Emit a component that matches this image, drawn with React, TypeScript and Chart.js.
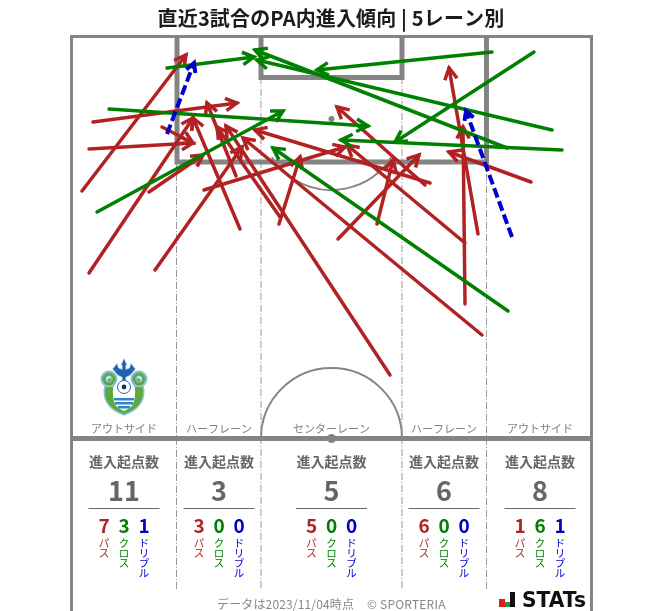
import React, { useEffect, useRef } from "react";
import { Chart, registerables } from "chart.js";

Chart.register(...registerables);

const titleText = "直近3試合のPA内進入傾向 | 5レーン別";
const laneNames = ["アウトサイド", "ハーフレーン", "センターレーン", "ハーフレーン", "アウトサイド"];
const laneCentres = [124, 219, 331.5, 444, 540];
const entryCounts = [11, 3, 5, 6, 8];
const passCounts = [7, 3, 5, 6, 1];
const crossCounts = [3, 0, 0, 0, 6];
const dribbleCounts = [1, 0, 0, 0, 1];
const statLabels = ["パス", "クロス", "ドリブル"];
const headerText = "進入起点数";
const footerDate = "データは2023/11/04時点";
const footerCopy = "© SPORTERIA";

// [fromX, fromY, toX, toY] on the pitch grid
const passArrows = [
  [82, 191, 186, 55],
  [93, 122, 237, 103],
  [89, 149, 193, 143],
  [89, 273, 193, 118],
  [155, 270, 242, 147],
  [149, 192, 203, 155],
  [162, 127, 193, 143],
  [240, 229, 193, 118],
  [204, 190, 345, 147],
  [236, 176, 207, 103],
  [279, 224, 300, 157],
  [338, 239, 419, 155],
  [377, 224, 393, 160],
  [390, 375, 226, 126],
  [280, 217, 217, 127],
  [425, 185, 337, 107],
  [430, 183, 255, 130],
  [465, 243, 347, 145],
  [465, 304, 463, 127],
  [478, 234, 449, 68],
  [482, 335, 243, 138],
  [531, 182, 449, 152],
];
const crossArrows = [
  [167, 68, 254, 57],
  [109, 109, 368, 126],
  [97, 212, 283, 111],
  [492, 52, 317, 70],
  [534, 52, 395, 142],
  [552, 130, 257, 60],
  [507, 148, 255, 50],
  [562, 150, 341, 140],
  [508, 311, 273, 148],
];
const dribbleArrows = [
  [167, 134, 194, 63],
  [512, 237, 466, 111],
];

const outerLine = [[71.5, 640], [71.5, 36.5], [591.5, 36.5], [591.5, 640]];
const penaltyBox = [[177, 36.5], [177, 162], [486.5, 162], [486.5, 36.5]];
const goalBox = [[261, 36.5], [261, 77.5], [402, 77.5], [402, 36.5]];
const halfwayLine = [[71.5, 438.5], [591.5, 438.5]];
const laneLines = [
  [[176.5, 162], [176.5, 590]],
  [[261, 77], [261, 590]],
  [[402, 77], [402, 590]],
  [[486.5, 162], [486.5, 590]],
];

const RED = "#B22222";
const GREEN = "#008000";
const BLUE = "#0000CD";
const PITCH = "#848484";
const JP = '"Noto Sans CJK JP"';

function arrowSet(a: number[], color: string, dash: number[], width: number, headLen: number) {
  return {
    data: [{ x: a[0], y: a[1] }, { x: a[2], y: a[3] }],
    borderColor: color,
    borderWidth: width,
    borderDash: dash,
    borderCapStyle: dash.length ? "butt" : "round",
    pointRadius: 0,
    showLine: true,
    clip: false,
    tension: 0,
    headLen,
  };
}
function lineSet(pts: number[][], color: string, width: number, dash: number[] = []) {
  return {
    data: pts.map((p) => ({ x: p[0], y: p[1] })),
    borderColor: color,
    borderWidth: width,
    borderDash: dash,
    borderCapStyle: "butt",
    borderJoinStyle: "miter",
    pointRadius: 0,
    showLine: true,
    clip: false,
    tension: 0,
  };
}

function drawText(ctx: any, t: string, x: number, y: number, font: string, color: string, align = "center", spacing = "0px") {
  ctx.font = font;
  ctx.fillStyle = color;
  ctx.textAlign = align;
  ctx.textBaseline = "middle";
  ctx.letterSpacing = spacing;
  ctx.fillText(t, x, y);
  ctx.letterSpacing = "0px";
}

function drawLogo(ctx: any, cx: number, top: number) {
  ctx.save();
  ctx.translate(cx, top);
  const shield = () => {
    ctx.beginPath();
    ctx.moveTo(-15, 20);
    ctx.bezierCurveTo(-21, 30, -21, 42, -10, 50);
    ctx.quadraticCurveTo(-4, 54, 0, 55);
    ctx.quadraticCurveTo(4, 54, 10, 50);
    ctx.bezierCurveTo(21, 42, 21, 30, 15, 20);
    ctx.closePath();
  };
  ctx.lineJoin = "round";
  shield();
  ctx.fillStyle = "#5DAA3C";
  ctx.strokeStyle = "#8FBFE3";
  ctx.lineWidth = 3;
  ctx.stroke();
  ctx.fill();
  // inner panel
  ctx.beginPath();
  ctx.moveTo(-9, 18);
  ctx.lineTo(9, 18);
  ctx.bezierCurveTo(12, 30, 12, 40, 8, 47);
  ctx.quadraticCurveTo(3, 51, 0, 52);
  ctx.quadraticCurveTo(-3, 51, -8, 47);
  ctx.bezierCurveTo(-12, 40, -12, 30, -9, 18);
  ctx.closePath();
  ctx.fillStyle = "#FFFFFF";
  ctx.fill();
  // hooks
  for (const s of [-1, 1]) {
    ctx.beginPath();
    ctx.arc(s * 15, 20, 5.5, 0, Math.PI * 2);
    ctx.strokeStyle = "#8FBFE3";
    ctx.lineWidth = 6;
    ctx.stroke();
    ctx.beginPath();
    ctx.arc(s * 15, 20, 5, 0, Math.PI * 2);
    ctx.strokeStyle = "#5DAA3C";
    ctx.lineWidth = 3;
    ctx.stroke();
  }
  // trident
  ctx.fillStyle = "#1F63AE";
  ctx.strokeStyle = "#BBD8EE";
  ctx.lineWidth = 1.5;
  ctx.beginPath();
  ctx.moveTo(0, 0);
  ctx.lineTo(2.5, 6);
  ctx.lineTo(1.5, 6);
  ctx.lineTo(1.5, 11);
  ctx.lineTo(6, 9);
  ctx.lineTo(7, 5);
  ctx.lineTo(11, 10);
  ctx.lineTo(6, 16);
  ctx.lineTo(1.5, 18);
  ctx.lineTo(1.5, 21);
  ctx.lineTo(-1.5, 21);
  ctx.lineTo(-1.5, 18);
  ctx.lineTo(-6, 16);
  ctx.lineTo(-11, 10);
  ctx.lineTo(-7, 5);
  ctx.lineTo(-6, 9);
  ctx.lineTo(-1.5, 11);
  ctx.lineTo(-1.5, 6);
  ctx.lineTo(-2.5, 6);
  ctx.closePath();
  ctx.stroke();
  ctx.fill();
  // ball
  ctx.beginPath();
  ctx.arc(0, 28, 6.5, 0, Math.PI * 2);
  ctx.fillStyle = "#FFFFFF";
  ctx.fill();
  ctx.strokeStyle = "#1F63AE";
  ctx.lineWidth = 1;
  ctx.stroke();
  ctx.beginPath();
  ctx.arc(0, 28, 2.4, 0, Math.PI * 2);
  ctx.fillStyle = "#17365D";
  ctx.fill();
  // waves
  ctx.fillStyle = "#2E86C8";
  ctx.fillRect(-10, 39, 20, 2.5);
  ctx.fillRect(-9, 43, 18, 2.5);
  ctx.fillRect(-6, 47, 12, 2.5);
  ctx.restore();
}

const pitchPlugin = {
  id: "pitchMarks",
  beforeDatasetsDraw(chart: any) {
    const ctx = chart.ctx;
    const sx = chart.scales.x;
    const sy = chart.scales.y;
    const u = sx.getPixelForValue(1) - sx.getPixelForValue(0);
    ctx.save();
    ctx.strokeStyle = PITCH;
    ctx.lineWidth = 2;
    ctx.beginPath();
    ctx.arc(sx.getPixelForValue(331.5), sy.getPixelForValue(119), 71 * u, 0.57, Math.PI - 0.57);
    ctx.stroke();
    ctx.beginPath();
    ctx.arc(sx.getPixelForValue(331.5), sy.getPixelForValue(438.5), 70.5 * u, Math.PI, 0);
    ctx.stroke();
    ctx.fillStyle = PITCH;
    ctx.beginPath();
    ctx.arc(sx.getPixelForValue(331.5), sy.getPixelForValue(119), 3 * u, 0, Math.PI * 2);
    ctx.fill();
    ctx.beginPath();
    ctx.arc(sx.getPixelForValue(331.5), sy.getPixelForValue(438.5), 4.5 * u, 0, Math.PI * 2);
    ctx.fill();
    ctx.restore();

    drawLogo(ctx, sx.getPixelForValue(124), sy.getPixelForValue(359));
  },
  afterDatasetDraw(chart: any, args: any) {
    const ds = chart.data.datasets[args.index];
    if (!ds.headLen) return;
    const pts = args.meta.data;
    const ctx = chart.ctx;
    const a = Math.atan2(pts[1].y - pts[0].y, pts[1].x - pts[0].x);
    const w = 0.5;
    ctx.save();
    ctx.strokeStyle = ds.borderColor;
    ctx.lineWidth = ds.borderWidth;
    ctx.lineJoin = "miter";
    ctx.lineCap = "butt";
    ctx.setLineDash([]);
    ctx.beginPath();
    ctx.moveTo(pts[1].x - ds.headLen * Math.cos(a - w), pts[1].y - ds.headLen * Math.sin(a - w));
    ctx.lineTo(pts[1].x, pts[1].y);
    ctx.lineTo(pts[1].x - ds.headLen * Math.cos(a + w), pts[1].y - ds.headLen * Math.sin(a + w));
    ctx.stroke();
    ctx.restore();
  },
  afterDatasetsDraw(chart: any) {
    const ctx = chart.ctx;
    const sx = chart.scales.x;
    const sy = chart.scales.y;
    ctx.save();
    drawText(ctx, titleText, sx.getPixelForValue(331), sy.getPixelForValue(18), `bold 20px ${JP}`, "#1c1c1c", "center", "0.15px");
    laneNames.forEach((name, i) => {
      const c = sx.getPixelForValue(laneCentres[i]);
      drawText(ctx, name, c, sy.getPixelForValue(428.5), `11px ${JP}`, "#808080");
      drawText(ctx, headerText, c, sy.getPixelForValue(462), `bold 14px ${JP}`, "#666666");
      drawText(ctx, String(entryCounts[i]), c, sy.getPixelForValue(491), `bold 27px ${JP}`, "#666666");
      ctx.strokeStyle = "#666666";
      ctx.lineWidth = 1;
      ctx.beginPath();
      ctx.moveTo(sx.getPixelForValue(laneCentres[i] - 35.5), sy.getPixelForValue(508.5));
      ctx.lineTo(sx.getPixelForValue(laneCentres[i] + 35.5), sy.getPixelForValue(508.5));
      ctx.stroke();
      const vals = [passCounts[i], crossCounts[i], dribbleCounts[i]];
      const cols = [RED, GREEN, BLUE];
      vals.forEach((v, k) => {
        const x = sx.getPixelForValue(laneCentres[i] + (k - 1) * 20);
        drawText(ctx, String(v), x, sy.getPixelForValue(526), `bold 19px ${JP}`, cols[k]);
        Array.from(statLabels[k]).forEach((ch, n) => {
          drawText(ctx, ch, x, sy.getPixelForValue(543.5 + n * 10), `10.5px ${JP}`, cols[k]);
        });
      });
    });
    drawText(ctx, footerDate, sx.getPixelForValue(217), sy.getPixelForValue(604), `12px ${JP}`, "#888888", "left", "0.15px");
    drawText(ctx, footerCopy, sx.getPixelForValue(367), sy.getPixelForValue(604), `12px ${JP}`, "#888888", "left", "0.2px");

    // STATs mark
    ctx.fillStyle = "#E11C24";
    ctx.fillRect(sx.getPixelForValue(499), sy.getPixelForValue(599), 6, 8);
    ctx.fillStyle = "#1E9A3C";
    ctx.fillRect(sx.getPixelForValue(505), sy.getPixelForValue(602), 5, 5);
    ctx.fillStyle = "#111111";
    ctx.fillRect(sx.getPixelForValue(510), sy.getPixelForValue(592), 5, 15);
    ctx.font = `bold 21px "DejaVu Sans"`;
    ctx.textAlign = "left";
    ctx.textBaseline = "alphabetic";
    ctx.fillText("STATs", sx.getPixelForValue(522), sy.getPixelForValue(607), 64);
    ctx.restore();
  },
};

export default function App() {
  const ref = useRef<HTMLCanvasElement | null>(null);
  useEffect(() => {
    document.body.style.margin = "0";
    const datasets: any[] = [
      ...dribbleArrows.map((a) => arrowSet(a, BLUE, [10, 4], 4, 10)),
      ...crossArrows.map((a) => arrowSet(a, GREEN, [], 3.5, 13)),
      ...passArrows.map((a) => arrowSet(a, RED, [], 3.5, 13)),
      lineSet(outerLine, PITCH, 3),
      lineSet(penaltyBox, PITCH, 5),
      lineSet(goalBox, PITCH, 5),
      lineSet(halfwayLine, PITCH, 5),
      ...laneLines.map((l) => lineSet(l, "#999999", 1, [7, 2, 1, 2])),
    ];
    const chart = new Chart(ref.current as HTMLCanvasElement, {
      type: "scatter",
      data: { datasets },
      options: {
        animation: false,
        responsive: false,
        devicePixelRatio: 1,
        layout: { padding: 0 },
        plugins: { legend: { display: false }, tooltip: { enabled: false }, title: { display: false } },
        scales: {
          x: { type: "linear", min: 0, max: 663, display: false },
          y: { type: "linear", min: 0, max: 611, reverse: true, display: false },
        },
      },
      plugins: [pitchPlugin],
    } as any);
    return () => chart.destroy();
  }, []);
  return <canvas ref={ref} width={663} height={611} style={{ display: "block", position: "absolute", left: 0, top: 0 }} />;
}
